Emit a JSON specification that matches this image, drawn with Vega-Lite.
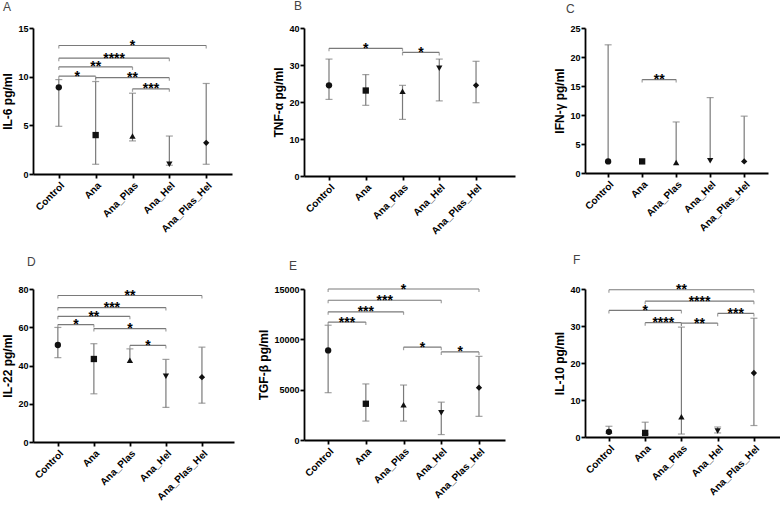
{
  "$schema": "https://vega.github.io/schema/vega-lite/v6.json",
  "background": "white",
  "padding": {"left": 1, "top": 0, "right": 0, "bottom": 0},
  "columns": 3,
  "bounds": "flush",
  "spacing": {"row": 113, "column": 70},
  "datasets": {
    "pts": [
      {"panel": "A", "group": "Control", "mean": 8.9, "low": 4.9, "high": 9.7},
      {"panel": "A", "group": "Ana", "mean": 4.0, "low": 1.0, "high": 9.5},
      {"panel": "A", "group": "Ana_Plas", "mean": 3.9, "low": 3.4, "high": 8.3},
      {"panel": "A", "group": "Ana_Hel", "mean": 1.0, "low": 0.9, "high": 3.9},
      {"panel": "A", "group": "Ana_Plas_Hel", "mean": 3.2, "low": 1.0, "high": 9.3},
      {"panel": "B", "group": "Control", "mean": 24.5, "low": 20.7, "high": 31.6},
      {"panel": "B", "group": "Ana", "mean": 23.1, "low": 19.1, "high": 27.4},
      {"panel": "B", "group": "Ana_Plas", "mean": 22.9, "low": 15.3, "high": 24.5},
      {"panel": "B", "group": "Ana_Hel", "mean": 29.1, "low": 20.3, "high": 31.6},
      {"panel": "B", "group": "Ana_Plas_Hel", "mean": 24.5, "low": 19.8, "high": 31.0},
      {"panel": "C", "group": "Control", "mean": 2.0, "low": 2.0, "high": 22.1},
      {"panel": "C", "group": "Ana", "mean": 2.0, "low": 2.0, "high": 2.0},
      {"panel": "C", "group": "Ana_Plas", "mean": 1.8, "low": 1.8, "high": 8.8},
      {"panel": "C", "group": "Ana_Hel", "mean": 2.1, "low": 2.1, "high": 13.0},
      {"panel": "C", "group": "Ana_Plas_Hel", "mean": 2.0, "low": 2.0, "high": 9.8},
      {"panel": "D", "group": "Control", "mean": 50.7, "low": 44.1, "high": 59.9},
      {"panel": "D", "group": "Ana", "mean": 43.4, "low": 25.2, "high": 51.4},
      {"panel": "D", "group": "Ana_Plas", "mean": 42.8, "low": 42.8, "high": 48.7},
      {"panel": "D", "group": "Ana_Hel", "mean": 34.4, "low": 18.1, "high": 43.2},
      {"panel": "D", "group": "Ana_Plas_Hel", "mean": 33.9, "low": 20.3, "high": 49.6},
      {"panel": "E", "group": "Control", "mean": 8900, "low": 4700, "high": 11400},
      {"panel": "E", "group": "Ana", "mean": 3600, "low": 1880, "high": 5570},
      {"panel": "E", "group": "Ana_Plas", "mean": 3500, "low": 1880, "high": 5460},
      {"panel": "E", "group": "Ana_Hel", "mean": 2700, "low": 540, "high": 3760},
      {"panel": "E", "group": "Ana_Plas_Hel", "mean": 5200, "low": 2350, "high": 8310},
      {"panel": "F", "group": "Control", "mean": 1.4, "low": 1.0, "high": 2.9},
      {"panel": "F", "group": "Ana", "mean": 1.1, "low": 0.8, "high": 4.0},
      {"panel": "F", "group": "Ana_Plas", "mean": 5.5, "low": 0.8, "high": 29.7},
      {"panel": "F", "group": "Ana_Hel", "mean": 1.6, "low": 1.1, "high": 2.7},
      {"panel": "F", "group": "Ana_Plas_Hel", "mean": 17.3, "low": 3.1, "high": 32.1}
    ],
    "sig": [
      {"panel": "A", "from": "Control", "to": "Ana_Plas_Hel", "level": 13.2, "stars": "*"},
      {"panel": "A", "from": "Control", "to": "Ana_Hel", "level": 11.9, "stars": "****"},
      {"panel": "A", "from": "Control", "to": "Ana_Plas", "level": 11.0, "stars": "**"},
      {"panel": "A", "from": "Control", "to": "Ana", "level": 10.05, "stars": "*"},
      {"panel": "A", "from": "Ana", "to": "Ana_Hel", "level": 9.9, "stars": "**"},
      {"panel": "A", "from": "Ana_Plas", "to": "Ana_Hel", "level": 8.75, "stars": "***"},
      {"panel": "B", "from": "Control", "to": "Ana_Plas", "level": 34.5, "stars": "*"},
      {"panel": "B", "from": "Ana_Plas", "to": "Ana_Hel", "level": 33.4, "stars": "*"},
      {"panel": "C", "from": "Ana", "to": "Ana_Plas", "level": 16.1, "stars": "**"},
      {"panel": "D", "from": "Control", "to": "Ana_Plas_Hel", "level": 76.6, "stars": "**"},
      {"panel": "D", "from": "Control", "to": "Ana_Hel", "level": 70.3, "stars": "***"},
      {"panel": "D", "from": "Control", "to": "Ana_Plas", "level": 65.7, "stars": "**"},
      {"panel": "D", "from": "Control", "to": "Ana", "level": 61.4, "stars": "*"},
      {"panel": "D", "from": "Ana", "to": "Ana_Hel", "level": 59.3, "stars": "*"},
      {"panel": "D", "from": "Ana_Plas", "to": "Ana_Hel", "level": 50.5, "stars": "*"},
      {"panel": "E", "from": "Control", "to": "Ana_Plas_Hel", "level": 15000, "stars": "*"},
      {"panel": "E", "from": "Control", "to": "Ana_Hel", "level": 13880, "stars": "***"},
      {"panel": "E", "from": "Control", "to": "Ana_Plas", "level": 12735, "stars": "***"},
      {"panel": "E", "from": "Control", "to": "Ana", "level": 11711, "stars": "***"},
      {"panel": "E", "from": "Ana_Plas", "to": "Ana_Hel", "level": 9217, "stars": "*"},
      {"panel": "E", "from": "Ana_Hel", "to": "Ana_Plas_Hel", "level": 8747, "stars": "*"},
      {"panel": "F", "from": "Control", "to": "Ana_Plas_Hel", "level": 39.8, "stars": "**"},
      {"panel": "F", "from": "Ana", "to": "Ana_Plas_Hel", "level": 36.7, "stars": "****"},
      {"panel": "F", "from": "Control", "to": "Ana_Plas", "level": 34.2, "stars": "*"},
      {"panel": "F", "from": "Ana_Hel", "to": "Ana_Plas_Hel", "level": 33.4, "stars": "***"},
      {"panel": "F", "from": "Ana", "to": "Ana_Plas", "level": 30.9, "stars": "****"},
      {"panel": "F", "from": "Ana_Plas", "to": "Ana_Hel", "level": 30.8, "stars": "**"}
    ]
  },
  "concat": [
    {
      "width": 199, "height": 146,
      "title": {"text": "A", "dx": -30, "offset": 10},
      "layer": [
        {"data": {"name": "pts"},
         "transform": [{"filter": "datum.panel === 'A'"}, {"calculate": "indexof(['Control','Ana','Ana_Plas','Ana_Hel','Ana_Plas_Hel'], datum.group)", "as": "pos"}],
         "mark": {"type": "rule", "color": "#7a7a7a", "strokeWidth": 1.2},
         "encoding": {
           "x": {"field": "pos", "type": "quantitative", "scale": {"domain": [-0.7, 4.7], "nice": false, "zero": false},
             "axis": {"values": [0, 1, 2, 3, 4], "labelExpr": "['Control','Ana','Ana_Plas','Ana_Hel','Ana_Plas_Hel'][datum.value]", "labelAngle": -45, "labelOverlap": false, "title": null}},
           "y": {"field": "low", "type": "quantitative", "scale": {"domain": [0, 15], "nice": false}, "axis": {"values": [0, 5, 10, 15], "tickCount": 4, "labelOverlap": false, "title": "IL-6 pg/ml"}},
           "y2": {"field": "high"}}},
        {"data": {"name": "pts"},
         "transform": [{"filter": "datum.panel === 'A' && datum.high > datum.mean"}, {"calculate": "indexof(['Control','Ana','Ana_Plas','Ana_Hel','Ana_Plas_Hel'], datum.group)", "as": "pos"}],
         "mark": {"type": "tick", "orient": "horizontal", "size": 7, "thickness": 1.2, "color": "#7a7a7a"},
         "encoding": {"x": {"field": "pos", "type": "quantitative", "title": null}, "y": {"field": "high", "type": "quantitative", "axis": {"values": [0, 5, 10, 15], "tickCount": 4, "labelOverlap": false, "title": "IL-6 pg/ml"}}}},
        {"data": {"name": "pts"},
         "transform": [{"filter": "datum.panel === 'A' && datum.low < datum.mean"}, {"calculate": "indexof(['Control','Ana','Ana_Plas','Ana_Hel','Ana_Plas_Hel'], datum.group)", "as": "pos"}],
         "mark": {"type": "tick", "orient": "horizontal", "size": 7, "thickness": 1.2, "color": "#7a7a7a"},
         "encoding": {"x": {"field": "pos", "type": "quantitative", "title": null}, "y": {"field": "low", "type": "quantitative", "axis": {"values": [0, 5, 10, 15], "tickCount": 4, "labelOverlap": false, "title": "IL-6 pg/ml"}}}},
        {"data": {"name": "pts"},
         "transform": [{"filter": "datum.panel === 'A'"}, {"calculate": "indexof(['Control','Ana','Ana_Plas','Ana_Hel','Ana_Plas_Hel'], datum.group)", "as": "pos"}],
         "mark": {"type": "point", "filled": true, "opacity": 1, "color": "#111", "size": 40},
         "encoding": {"x": {"field": "pos", "type": "quantitative", "title": null}, "y": {"field": "mean", "type": "quantitative", "axis": {"values": [0, 5, 10, 15], "tickCount": 4, "labelOverlap": false, "title": "IL-6 pg/ml"}},
           "shape": {"field": "group", "type": "nominal", "scale": {"domain": ["Control", "Ana", "Ana_Plas", "Ana_Hel", "Ana_Plas_Hel"], "range": ["circle", "square", "triangle-up", "triangle-down", "diamond"]}, "legend": null}}},
        {"data": {"name": "sig"},
         "transform": [{"filter": "datum.panel === 'A'"}, {"calculate": "indexof(['Control','Ana','Ana_Plas','Ana_Hel','Ana_Plas_Hel'], datum.from)", "as": "a"}, {"calculate": "indexof(['Control','Ana','Ana_Plas','Ana_Hel','Ana_Plas_Hel'], datum.to)", "as": "b"}],
         "mark": {"type": "rule", "color": "#7a7a7a", "strokeWidth": 1.2},
         "encoding": {"x": {"field": "a", "type": "quantitative", "title": null}, "x2": {"field": "b"}, "y": {"field": "level", "type": "quantitative", "axis": {"values": [0, 5, 10, 15], "tickCount": 4, "labelOverlap": false, "title": "IL-6 pg/ml"}}}},
        {"data": {"name": "sig"},
         "transform": [{"filter": "datum.panel === 'A'"}, {"calculate": "indexof(['Control','Ana','Ana_Plas','Ana_Hel','Ana_Plas_Hel'], datum.from)", "as": "a"}],
         "mark": {"type": "tick", "orient": "vertical", "size": 3, "thickness": 1.2, "color": "#7a7a7a", "yOffset": 1.5},
         "encoding": {"x": {"field": "a", "type": "quantitative", "title": null}, "y": {"field": "level", "type": "quantitative", "axis": {"values": [0, 5, 10, 15], "tickCount": 4, "labelOverlap": false, "title": "IL-6 pg/ml"}}}},
        {"data": {"name": "sig"},
         "transform": [{"filter": "datum.panel === 'A'"}, {"calculate": "indexof(['Control','Ana','Ana_Plas','Ana_Hel','Ana_Plas_Hel'], datum.to)", "as": "b"}],
         "mark": {"type": "tick", "orient": "vertical", "size": 3, "thickness": 1.2, "color": "#7a7a7a", "yOffset": 1.5},
         "encoding": {"x": {"field": "b", "type": "quantitative", "title": null}, "y": {"field": "level", "type": "quantitative", "axis": {"values": [0, 5, 10, 15], "tickCount": 4, "labelOverlap": false, "title": "IL-6 pg/ml"}}}},
        {"data": {"name": "sig"},
         "transform": [{"filter": "datum.panel === 'A'"}, {"calculate": "(indexof(['Control','Ana','Ana_Plas','Ana_Hel','Ana_Plas_Hel'], datum.from) + indexof(['Control','Ana','Ana_Plas','Ana_Hel','Ana_Plas_Hel'], datum.to)) / 2", "as": "mid"}],
         "mark": {"type": "text", "fontSize": 14, "fontWeight": "bold", "baseline": "alphabetic", "dy": 4.5, "color": "#000"},
         "encoding": {"x": {"field": "mid", "type": "quantitative", "title": null}, "y": {"field": "level", "type": "quantitative", "axis": {"values": [0, 5, 10, 15], "tickCount": 4, "labelOverlap": false, "title": "IL-6 pg/ml"}}, "text": {"field": "stars"}}}
      ]
    },
    {
      "width": 211, "height": 148,
      "title": {"text": "B", "dx": -10, "offset": 11},
      "layer": [
        {"data": {"name": "pts"},
         "transform": [{"filter": "datum.panel === 'B'"}, {"calculate": "indexof(['Control','Ana','Ana_Plas','Ana_Hel','Ana_Plas_Hel'], datum.group)", "as": "pos"}],
         "mark": {"type": "rule", "color": "#7a7a7a", "strokeWidth": 1.2},
         "encoding": {
           "x": {"field": "pos", "type": "quantitative", "scale": {"domain": [-0.68, 5.06], "nice": false, "zero": false},
             "axis": {"values": [0, 1, 2, 3, 4], "labelExpr": "['Control','Ana','Ana_Plas','Ana_Hel','Ana_Plas_Hel'][datum.value]", "labelAngle": -45, "labelOverlap": false, "title": null}},
           "y": {"field": "low", "type": "quantitative", "scale": {"domain": [0, 40], "nice": false}, "axis": {"values": [0, 10, 20, 30, 40], "tickCount": 5, "labelOverlap": false, "title": "TNF-α pg/ml"}},
           "y2": {"field": "high"}}},
        {"data": {"name": "pts"},
         "transform": [{"filter": "datum.panel === 'B' && datum.high > datum.mean"}, {"calculate": "indexof(['Control','Ana','Ana_Plas','Ana_Hel','Ana_Plas_Hel'], datum.group)", "as": "pos"}],
         "mark": {"type": "tick", "orient": "horizontal", "size": 7, "thickness": 1.2, "color": "#7a7a7a"},
         "encoding": {"x": {"field": "pos", "type": "quantitative", "title": null}, "y": {"field": "high", "type": "quantitative", "axis": {"values": [0, 10, 20, 30, 40], "tickCount": 5, "labelOverlap": false, "title": "TNF-α pg/ml"}}}},
        {"data": {"name": "pts"},
         "transform": [{"filter": "datum.panel === 'B' && datum.low < datum.mean"}, {"calculate": "indexof(['Control','Ana','Ana_Plas','Ana_Hel','Ana_Plas_Hel'], datum.group)", "as": "pos"}],
         "mark": {"type": "tick", "orient": "horizontal", "size": 7, "thickness": 1.2, "color": "#7a7a7a"},
         "encoding": {"x": {"field": "pos", "type": "quantitative", "title": null}, "y": {"field": "low", "type": "quantitative", "axis": {"values": [0, 10, 20, 30, 40], "tickCount": 5, "labelOverlap": false, "title": "TNF-α pg/ml"}}}},
        {"data": {"name": "pts"},
         "transform": [{"filter": "datum.panel === 'B'"}, {"calculate": "indexof(['Control','Ana','Ana_Plas','Ana_Hel','Ana_Plas_Hel'], datum.group)", "as": "pos"}],
         "mark": {"type": "point", "filled": true, "opacity": 1, "color": "#111", "size": 40},
         "encoding": {"x": {"field": "pos", "type": "quantitative", "title": null}, "y": {"field": "mean", "type": "quantitative", "axis": {"values": [0, 10, 20, 30, 40], "tickCount": 5, "labelOverlap": false, "title": "TNF-α pg/ml"}},
           "shape": {"field": "group", "type": "nominal", "scale": {"domain": ["Control", "Ana", "Ana_Plas", "Ana_Hel", "Ana_Plas_Hel"], "range": ["circle", "square", "triangle-up", "triangle-down", "diamond"]}, "legend": null}}},
        {"data": {"name": "sig"},
         "transform": [{"filter": "datum.panel === 'B'"}, {"calculate": "indexof(['Control','Ana','Ana_Plas','Ana_Hel','Ana_Plas_Hel'], datum.from)", "as": "a"}, {"calculate": "indexof(['Control','Ana','Ana_Plas','Ana_Hel','Ana_Plas_Hel'], datum.to)", "as": "b"}],
         "mark": {"type": "rule", "color": "#7a7a7a", "strokeWidth": 1.2},
         "encoding": {"x": {"field": "a", "type": "quantitative", "title": null}, "x2": {"field": "b"}, "y": {"field": "level", "type": "quantitative", "axis": {"values": [0, 10, 20, 30, 40], "tickCount": 5, "labelOverlap": false, "title": "TNF-α pg/ml"}}}},
        {"data": {"name": "sig"},
         "transform": [{"filter": "datum.panel === 'B'"}, {"calculate": "indexof(['Control','Ana','Ana_Plas','Ana_Hel','Ana_Plas_Hel'], datum.from)", "as": "a"}],
         "mark": {"type": "tick", "orient": "vertical", "size": 3, "thickness": 1.2, "color": "#7a7a7a", "yOffset": 1.5},
         "encoding": {"x": {"field": "a", "type": "quantitative", "title": null}, "y": {"field": "level", "type": "quantitative", "axis": {"values": [0, 10, 20, 30, 40], "tickCount": 5, "labelOverlap": false, "title": "TNF-α pg/ml"}}}},
        {"data": {"name": "sig"},
         "transform": [{"filter": "datum.panel === 'B'"}, {"calculate": "indexof(['Control','Ana','Ana_Plas','Ana_Hel','Ana_Plas_Hel'], datum.to)", "as": "b"}],
         "mark": {"type": "tick", "orient": "vertical", "size": 3, "thickness": 1.2, "color": "#7a7a7a", "yOffset": 1.5},
         "encoding": {"x": {"field": "b", "type": "quantitative", "title": null}, "y": {"field": "level", "type": "quantitative", "axis": {"values": [0, 10, 20, 30, 40], "tickCount": 5, "labelOverlap": false, "title": "TNF-α pg/ml"}}}},
        {"data": {"name": "sig"},
         "transform": [{"filter": "datum.panel === 'B'"}, {"calculate": "(indexof(['Control','Ana','Ana_Plas','Ana_Hel','Ana_Plas_Hel'], datum.from) + indexof(['Control','Ana','Ana_Plas','Ana_Hel','Ana_Plas_Hel'], datum.to)) / 2", "as": "mid"}],
         "mark": {"type": "text", "fontSize": 14, "fontWeight": "bold", "baseline": "alphabetic", "dy": 4.5, "color": "#000"},
         "encoding": {"x": {"field": "mid", "type": "quantitative", "title": null}, "y": {"field": "level", "type": "quantitative", "axis": {"values": [0, 10, 20, 30, 40], "tickCount": 5, "labelOverlap": false, "title": "TNF-α pg/ml"}}, "text": {"field": "stars"}}}
      ]
    },
    {
      "width": 183, "height": 145,
      "title": {"text": "C", "dx": -19, "offset": 8},
      "layer": [
        {"data": {"name": "pts"},
         "transform": [{"filter": "datum.panel === 'C'"}, {"calculate": "indexof(['Control','Ana','Ana_Plas','Ana_Hel','Ana_Plas_Hel'], datum.group)", "as": "pos"}],
         "mark": {"type": "rule", "color": "#7a7a7a", "strokeWidth": 1.2},
         "encoding": {
           "x": {"field": "pos", "type": "quantitative", "scale": {"domain": [-0.68, 4.7], "nice": false, "zero": false},
             "axis": {"values": [0, 1, 2, 3, 4], "labelExpr": "['Control','Ana','Ana_Plas','Ana_Hel','Ana_Plas_Hel'][datum.value]", "labelAngle": -45, "labelOverlap": false, "title": null}},
           "y": {"field": "low", "type": "quantitative", "scale": {"domain": [0, 25], "nice": false}, "axis": {"values": [0, 5, 10, 15, 20, 25], "tickCount": 6, "labelOverlap": false, "title": "IFN-γ pg/ml"}},
           "y2": {"field": "high"}}},
        {"data": {"name": "pts"},
         "transform": [{"filter": "datum.panel === 'C' && datum.high > datum.mean"}, {"calculate": "indexof(['Control','Ana','Ana_Plas','Ana_Hel','Ana_Plas_Hel'], datum.group)", "as": "pos"}],
         "mark": {"type": "tick", "orient": "horizontal", "size": 7, "thickness": 1.2, "color": "#7a7a7a"},
         "encoding": {"x": {"field": "pos", "type": "quantitative", "title": null}, "y": {"field": "high", "type": "quantitative", "axis": {"values": [0, 5, 10, 15, 20, 25], "tickCount": 6, "labelOverlap": false, "title": "IFN-γ pg/ml"}}}},
        {"data": {"name": "pts"},
         "transform": [{"filter": "datum.panel === 'C'"}, {"calculate": "indexof(['Control','Ana','Ana_Plas','Ana_Hel','Ana_Plas_Hel'], datum.group)", "as": "pos"}],
         "mark": {"type": "point", "filled": true, "opacity": 1, "color": "#111", "size": 40},
         "encoding": {"x": {"field": "pos", "type": "quantitative", "title": null}, "y": {"field": "mean", "type": "quantitative", "axis": {"values": [0, 5, 10, 15, 20, 25], "tickCount": 6, "labelOverlap": false, "title": "IFN-γ pg/ml"}},
           "shape": {"field": "group", "type": "nominal", "scale": {"domain": ["Control", "Ana", "Ana_Plas", "Ana_Hel", "Ana_Plas_Hel"], "range": ["circle", "square", "triangle-up", "triangle-down", "diamond"]}, "legend": null}}},
        {"data": {"name": "sig"},
         "transform": [{"filter": "datum.panel === 'C'"}, {"calculate": "indexof(['Control','Ana','Ana_Plas','Ana_Hel','Ana_Plas_Hel'], datum.from)", "as": "a"}, {"calculate": "indexof(['Control','Ana','Ana_Plas','Ana_Hel','Ana_Plas_Hel'], datum.to)", "as": "b"}],
         "mark": {"type": "rule", "color": "#7a7a7a", "strokeWidth": 1.2},
         "encoding": {"x": {"field": "a", "type": "quantitative", "title": null}, "x2": {"field": "b"}, "y": {"field": "level", "type": "quantitative", "axis": {"values": [0, 5, 10, 15, 20, 25], "tickCount": 6, "labelOverlap": false, "title": "IFN-γ pg/ml"}}}},
        {"data": {"name": "sig"},
         "transform": [{"filter": "datum.panel === 'C'"}, {"calculate": "indexof(['Control','Ana','Ana_Plas','Ana_Hel','Ana_Plas_Hel'], datum.from)", "as": "a"}],
         "mark": {"type": "tick", "orient": "vertical", "size": 3, "thickness": 1.2, "color": "#7a7a7a", "yOffset": 1.5},
         "encoding": {"x": {"field": "a", "type": "quantitative", "title": null}, "y": {"field": "level", "type": "quantitative", "axis": {"values": [0, 5, 10, 15, 20, 25], "tickCount": 6, "labelOverlap": false, "title": "IFN-γ pg/ml"}}}},
        {"data": {"name": "sig"},
         "transform": [{"filter": "datum.panel === 'C'"}, {"calculate": "indexof(['Control','Ana','Ana_Plas','Ana_Hel','Ana_Plas_Hel'], datum.to)", "as": "b"}],
         "mark": {"type": "tick", "orient": "vertical", "size": 3, "thickness": 1.2, "color": "#7a7a7a", "yOffset": 1.5},
         "encoding": {"x": {"field": "b", "type": "quantitative", "title": null}, "y": {"field": "level", "type": "quantitative", "axis": {"values": [0, 5, 10, 15, 20, 25], "tickCount": 6, "labelOverlap": false, "title": "IFN-γ pg/ml"}}}},
        {"data": {"name": "sig"},
         "transform": [{"filter": "datum.panel === 'C'"}, {"calculate": "(indexof(['Control','Ana','Ana_Plas','Ana_Hel','Ana_Plas_Hel'], datum.from) + indexof(['Control','Ana','Ana_Plas','Ana_Hel','Ana_Plas_Hel'], datum.to)) / 2", "as": "mid"}],
         "mark": {"type": "text", "fontSize": 14, "fontWeight": "bold", "baseline": "alphabetic", "dy": 4.5, "color": "#000"},
         "encoding": {"x": {"field": "mid", "type": "quantitative", "title": null}, "y": {"field": "level", "type": "quantitative", "axis": {"values": [0, 5, 10, 15, 20, 25], "tickCount": 6, "labelOverlap": false, "title": "IFN-γ pg/ml"}}, "text": {"field": "stars"}}}
      ]
    },
    {
      "width": 201, "height": 153,
      "title": {"text": "D", "dx": -6, "offset": 16},
      "layer": [
        {"data": {"name": "pts"},
         "transform": [{"filter": "datum.panel === 'D'"}, {"calculate": "indexof(['Control','Ana','Ana_Plas','Ana_Hel','Ana_Plas_Hel'], datum.group)", "as": "pos"}],
         "mark": {"type": "rule", "color": "#7a7a7a", "strokeWidth": 1.2},
         "encoding": {
           "x": {"field": "pos", "type": "quantitative", "scale": {"domain": [-0.69, 4.89], "nice": false, "zero": false},
             "axis": {"values": [0, 1, 2, 3, 4], "labelExpr": "['Control','Ana','Ana_Plas','Ana_Hel','Ana_Plas_Hel'][datum.value]", "labelAngle": -45, "labelOverlap": false, "title": null}},
           "y": {"field": "low", "type": "quantitative", "scale": {"domain": [0, 80], "nice": false}, "axis": {"values": [0, 20, 40, 60, 80], "tickCount": 5, "labelOverlap": false, "title": "IL-22 pg/ml"}},
           "y2": {"field": "high"}}},
        {"data": {"name": "pts"},
         "transform": [{"filter": "datum.panel === 'D' && datum.high > datum.mean"}, {"calculate": "indexof(['Control','Ana','Ana_Plas','Ana_Hel','Ana_Plas_Hel'], datum.group)", "as": "pos"}],
         "mark": {"type": "tick", "orient": "horizontal", "size": 7, "thickness": 1.2, "color": "#7a7a7a"},
         "encoding": {"x": {"field": "pos", "type": "quantitative", "title": null}, "y": {"field": "high", "type": "quantitative", "axis": {"values": [0, 20, 40, 60, 80], "tickCount": 5, "labelOverlap": false, "title": "IL-22 pg/ml"}}}},
        {"data": {"name": "pts"},
         "transform": [{"filter": "datum.panel === 'D' && datum.low < datum.mean"}, {"calculate": "indexof(['Control','Ana','Ana_Plas','Ana_Hel','Ana_Plas_Hel'], datum.group)", "as": "pos"}],
         "mark": {"type": "tick", "orient": "horizontal", "size": 7, "thickness": 1.2, "color": "#7a7a7a"},
         "encoding": {"x": {"field": "pos", "type": "quantitative", "title": null}, "y": {"field": "low", "type": "quantitative", "axis": {"values": [0, 20, 40, 60, 80], "tickCount": 5, "labelOverlap": false, "title": "IL-22 pg/ml"}}}},
        {"data": {"name": "pts"},
         "transform": [{"filter": "datum.panel === 'D'"}, {"calculate": "indexof(['Control','Ana','Ana_Plas','Ana_Hel','Ana_Plas_Hel'], datum.group)", "as": "pos"}],
         "mark": {"type": "point", "filled": true, "opacity": 1, "color": "#111", "size": 40},
         "encoding": {"x": {"field": "pos", "type": "quantitative", "title": null}, "y": {"field": "mean", "type": "quantitative", "axis": {"values": [0, 20, 40, 60, 80], "tickCount": 5, "labelOverlap": false, "title": "IL-22 pg/ml"}},
           "shape": {"field": "group", "type": "nominal", "scale": {"domain": ["Control", "Ana", "Ana_Plas", "Ana_Hel", "Ana_Plas_Hel"], "range": ["circle", "square", "triangle-up", "triangle-down", "diamond"]}, "legend": null}}},
        {"data": {"name": "sig"},
         "transform": [{"filter": "datum.panel === 'D'"}, {"calculate": "indexof(['Control','Ana','Ana_Plas','Ana_Hel','Ana_Plas_Hel'], datum.from)", "as": "a"}, {"calculate": "indexof(['Control','Ana','Ana_Plas','Ana_Hel','Ana_Plas_Hel'], datum.to)", "as": "b"}],
         "mark": {"type": "rule", "color": "#7a7a7a", "strokeWidth": 1.2},
         "encoding": {"x": {"field": "a", "type": "quantitative", "title": null}, "x2": {"field": "b"}, "y": {"field": "level", "type": "quantitative", "axis": {"values": [0, 20, 40, 60, 80], "tickCount": 5, "labelOverlap": false, "title": "IL-22 pg/ml"}}}},
        {"data": {"name": "sig"},
         "transform": [{"filter": "datum.panel === 'D'"}, {"calculate": "indexof(['Control','Ana','Ana_Plas','Ana_Hel','Ana_Plas_Hel'], datum.from)", "as": "a"}],
         "mark": {"type": "tick", "orient": "vertical", "size": 3, "thickness": 1.2, "color": "#7a7a7a", "yOffset": 1.5},
         "encoding": {"x": {"field": "a", "type": "quantitative", "title": null}, "y": {"field": "level", "type": "quantitative", "axis": {"values": [0, 20, 40, 60, 80], "tickCount": 5, "labelOverlap": false, "title": "IL-22 pg/ml"}}}},
        {"data": {"name": "sig"},
         "transform": [{"filter": "datum.panel === 'D'"}, {"calculate": "indexof(['Control','Ana','Ana_Plas','Ana_Hel','Ana_Plas_Hel'], datum.to)", "as": "b"}],
         "mark": {"type": "tick", "orient": "vertical", "size": 3, "thickness": 1.2, "color": "#7a7a7a", "yOffset": 1.5},
         "encoding": {"x": {"field": "b", "type": "quantitative", "title": null}, "y": {"field": "level", "type": "quantitative", "axis": {"values": [0, 20, 40, 60, 80], "tickCount": 5, "labelOverlap": false, "title": "IL-22 pg/ml"}}}},
        {"data": {"name": "sig"},
         "transform": [{"filter": "datum.panel === 'D'"}, {"calculate": "(indexof(['Control','Ana','Ana_Plas','Ana_Hel','Ana_Plas_Hel'], datum.from) + indexof(['Control','Ana','Ana_Plas','Ana_Hel','Ana_Plas_Hel'], datum.to)) / 2", "as": "mid"}],
         "mark": {"type": "text", "fontSize": 14, "fontWeight": "bold", "baseline": "alphabetic", "dy": 4.5, "color": "#000"},
         "encoding": {"x": {"field": "mid", "type": "quantitative", "title": null}, "y": {"field": "level", "type": "quantitative", "axis": {"values": [0, 20, 40, 60, 80], "tickCount": 5, "labelOverlap": false, "title": "IL-22 pg/ml"}}, "text": {"field": "stars"}}}
      ]
    },
    {
      "width": 201, "height": 151,
      "title": {"text": "E", "dx": -15, "offset": 10},
      "layer": [
        {"data": {"name": "pts"},
         "transform": [{"filter": "datum.panel === 'E'"}, {"calculate": "indexof(['Control','Ana','Ana_Plas','Ana_Hel','Ana_Plas_Hel'], datum.group)", "as": "pos"}],
         "mark": {"type": "rule", "color": "#7a7a7a", "strokeWidth": 1.2},
         "encoding": {
           "x": {"field": "pos", "type": "quantitative", "scale": {"domain": [-0.64, 4.69], "nice": false, "zero": false},
             "axis": {"values": [0, 1, 2, 3, 4], "labelExpr": "['Control','Ana','Ana_Plas','Ana_Hel','Ana_Plas_Hel'][datum.value]", "labelAngle": -45, "labelOverlap": false, "title": null}},
           "y": {"field": "low", "type": "quantitative", "scale": {"domain": [0, 15000], "nice": false}, "axis": {"values": [0, 5000, 10000, 15000], "tickCount": 4, "format": "d", "labelOverlap": false, "title": "TGF-β pg/ml"}},
           "y2": {"field": "high"}}},
        {"data": {"name": "pts"},
         "transform": [{"filter": "datum.panel === 'E' && datum.high > datum.mean"}, {"calculate": "indexof(['Control','Ana','Ana_Plas','Ana_Hel','Ana_Plas_Hel'], datum.group)", "as": "pos"}],
         "mark": {"type": "tick", "orient": "horizontal", "size": 7, "thickness": 1.2, "color": "#7a7a7a"},
         "encoding": {"x": {"field": "pos", "type": "quantitative", "title": null}, "y": {"field": "high", "type": "quantitative", "axis": {"values": [0, 5000, 10000, 15000], "tickCount": 4, "format": "d", "labelOverlap": false, "title": "TGF-β pg/ml"}}}},
        {"data": {"name": "pts"},
         "transform": [{"filter": "datum.panel === 'E' && datum.low < datum.mean"}, {"calculate": "indexof(['Control','Ana','Ana_Plas','Ana_Hel','Ana_Plas_Hel'], datum.group)", "as": "pos"}],
         "mark": {"type": "tick", "orient": "horizontal", "size": 7, "thickness": 1.2, "color": "#7a7a7a"},
         "encoding": {"x": {"field": "pos", "type": "quantitative", "title": null}, "y": {"field": "low", "type": "quantitative", "axis": {"values": [0, 5000, 10000, 15000], "tickCount": 4, "format": "d", "labelOverlap": false, "title": "TGF-β pg/ml"}}}},
        {"data": {"name": "pts"},
         "transform": [{"filter": "datum.panel === 'E'"}, {"calculate": "indexof(['Control','Ana','Ana_Plas','Ana_Hel','Ana_Plas_Hel'], datum.group)", "as": "pos"}],
         "mark": {"type": "point", "filled": true, "opacity": 1, "color": "#111", "size": 40},
         "encoding": {"x": {"field": "pos", "type": "quantitative", "title": null}, "y": {"field": "mean", "type": "quantitative", "axis": {"values": [0, 5000, 10000, 15000], "tickCount": 4, "format": "d", "labelOverlap": false, "title": "TGF-β pg/ml"}},
           "shape": {"field": "group", "type": "nominal", "scale": {"domain": ["Control", "Ana", "Ana_Plas", "Ana_Hel", "Ana_Plas_Hel"], "range": ["circle", "square", "triangle-up", "triangle-down", "diamond"]}, "legend": null}}},
        {"data": {"name": "sig"},
         "transform": [{"filter": "datum.panel === 'E'"}, {"calculate": "indexof(['Control','Ana','Ana_Plas','Ana_Hel','Ana_Plas_Hel'], datum.from)", "as": "a"}, {"calculate": "indexof(['Control','Ana','Ana_Plas','Ana_Hel','Ana_Plas_Hel'], datum.to)", "as": "b"}],
         "mark": {"type": "rule", "color": "#7a7a7a", "strokeWidth": 1.2},
         "encoding": {"x": {"field": "a", "type": "quantitative", "title": null}, "x2": {"field": "b"}, "y": {"field": "level", "type": "quantitative", "axis": {"values": [0, 5000, 10000, 15000], "tickCount": 4, "format": "d", "labelOverlap": false, "title": "TGF-β pg/ml"}}}},
        {"data": {"name": "sig"},
         "transform": [{"filter": "datum.panel === 'E'"}, {"calculate": "indexof(['Control','Ana','Ana_Plas','Ana_Hel','Ana_Plas_Hel'], datum.from)", "as": "a"}],
         "mark": {"type": "tick", "orient": "vertical", "size": 3, "thickness": 1.2, "color": "#7a7a7a", "yOffset": 1.5},
         "encoding": {"x": {"field": "a", "type": "quantitative", "title": null}, "y": {"field": "level", "type": "quantitative", "axis": {"values": [0, 5000, 10000, 15000], "tickCount": 4, "format": "d", "labelOverlap": false, "title": "TGF-β pg/ml"}}}},
        {"data": {"name": "sig"},
         "transform": [{"filter": "datum.panel === 'E'"}, {"calculate": "indexof(['Control','Ana','Ana_Plas','Ana_Hel','Ana_Plas_Hel'], datum.to)", "as": "b"}],
         "mark": {"type": "tick", "orient": "vertical", "size": 3, "thickness": 1.2, "color": "#7a7a7a", "yOffset": 1.5},
         "encoding": {"x": {"field": "b", "type": "quantitative", "title": null}, "y": {"field": "level", "type": "quantitative", "axis": {"values": [0, 5000, 10000, 15000], "tickCount": 4, "format": "d", "labelOverlap": false, "title": "TGF-β pg/ml"}}}},
        {"data": {"name": "sig"},
         "transform": [{"filter": "datum.panel === 'E'"}, {"calculate": "(indexof(['Control','Ana','Ana_Plas','Ana_Hel','Ana_Plas_Hel'], datum.from) + indexof(['Control','Ana','Ana_Plas','Ana_Hel','Ana_Plas_Hel'], datum.to)) / 2", "as": "mid"}],
         "mark": {"type": "text", "fontSize": 14, "fontWeight": "bold", "baseline": "alphabetic", "dy": 4.5, "color": "#000"},
         "encoding": {"x": {"field": "mid", "type": "quantitative", "title": null}, "y": {"field": "level", "type": "quantitative", "axis": {"values": [0, 5000, 10000, 15000], "tickCount": 4, "format": "d", "labelOverlap": false, "title": "TGF-β pg/ml"}}, "text": {"field": "stars"}}}
      ]
    },
    {
      "width": 195, "height": 148,
      "title": {"text": "F", "dx": -12, "offset": 16},
      "layer": [
        {"data": {"name": "pts"},
         "transform": [{"filter": "datum.panel === 'F'"}, {"calculate": "indexof(['Control','Ana','Ana_Plas','Ana_Hel','Ana_Plas_Hel'], datum.group)", "as": "pos"}],
         "mark": {"type": "rule", "color": "#7a7a7a", "strokeWidth": 1.2},
         "encoding": {
           "x": {"field": "pos", "type": "quantitative", "scale": {"domain": [-0.66, 4.72], "nice": false, "zero": false},
             "axis": {"values": [0, 1, 2, 3, 4], "labelExpr": "['Control','Ana','Ana_Plas','Ana_Hel','Ana_Plas_Hel'][datum.value]", "labelAngle": -45, "labelOverlap": false, "title": null}},
           "y": {"field": "low", "type": "quantitative", "scale": {"domain": [0, 40], "nice": false}, "axis": {"values": [0, 10, 20, 30, 40], "tickCount": 5, "labelOverlap": false, "title": "IL-10 pg/ml"}},
           "y2": {"field": "high"}}},
        {"data": {"name": "pts"},
         "transform": [{"filter": "datum.panel === 'F' && datum.high > datum.mean"}, {"calculate": "indexof(['Control','Ana','Ana_Plas','Ana_Hel','Ana_Plas_Hel'], datum.group)", "as": "pos"}],
         "mark": {"type": "tick", "orient": "horizontal", "size": 7, "thickness": 1.2, "color": "#7a7a7a"},
         "encoding": {"x": {"field": "pos", "type": "quantitative", "title": null}, "y": {"field": "high", "type": "quantitative", "axis": {"values": [0, 10, 20, 30, 40], "tickCount": 5, "labelOverlap": false, "title": "IL-10 pg/ml"}}}},
        {"data": {"name": "pts"},
         "transform": [{"filter": "datum.panel === 'F' && datum.low < datum.mean"}, {"calculate": "indexof(['Control','Ana','Ana_Plas','Ana_Hel','Ana_Plas_Hel'], datum.group)", "as": "pos"}],
         "mark": {"type": "tick", "orient": "horizontal", "size": 7, "thickness": 1.2, "color": "#7a7a7a"},
         "encoding": {"x": {"field": "pos", "type": "quantitative", "title": null}, "y": {"field": "low", "type": "quantitative", "axis": {"values": [0, 10, 20, 30, 40], "tickCount": 5, "labelOverlap": false, "title": "IL-10 pg/ml"}}}},
        {"data": {"name": "pts"},
         "transform": [{"filter": "datum.panel === 'F'"}, {"calculate": "indexof(['Control','Ana','Ana_Plas','Ana_Hel','Ana_Plas_Hel'], datum.group)", "as": "pos"}],
         "mark": {"type": "point", "filled": true, "opacity": 1, "color": "#111", "size": 40},
         "encoding": {"x": {"field": "pos", "type": "quantitative", "title": null}, "y": {"field": "mean", "type": "quantitative", "axis": {"values": [0, 10, 20, 30, 40], "tickCount": 5, "labelOverlap": false, "title": "IL-10 pg/ml"}},
           "shape": {"field": "group", "type": "nominal", "scale": {"domain": ["Control", "Ana", "Ana_Plas", "Ana_Hel", "Ana_Plas_Hel"], "range": ["circle", "square", "triangle-up", "triangle-down", "diamond"]}, "legend": null}}},
        {"data": {"name": "sig"},
         "transform": [{"filter": "datum.panel === 'F'"}, {"calculate": "indexof(['Control','Ana','Ana_Plas','Ana_Hel','Ana_Plas_Hel'], datum.from)", "as": "a"}, {"calculate": "indexof(['Control','Ana','Ana_Plas','Ana_Hel','Ana_Plas_Hel'], datum.to)", "as": "b"}],
         "mark": {"type": "rule", "color": "#7a7a7a", "strokeWidth": 1.2},
         "encoding": {"x": {"field": "a", "type": "quantitative", "title": null}, "x2": {"field": "b"}, "y": {"field": "level", "type": "quantitative", "axis": {"values": [0, 10, 20, 30, 40], "tickCount": 5, "labelOverlap": false, "title": "IL-10 pg/ml"}}}},
        {"data": {"name": "sig"},
         "transform": [{"filter": "datum.panel === 'F'"}, {"calculate": "indexof(['Control','Ana','Ana_Plas','Ana_Hel','Ana_Plas_Hel'], datum.from)", "as": "a"}],
         "mark": {"type": "tick", "orient": "vertical", "size": 3, "thickness": 1.2, "color": "#7a7a7a", "yOffset": 1.5},
         "encoding": {"x": {"field": "a", "type": "quantitative", "title": null}, "y": {"field": "level", "type": "quantitative", "axis": {"values": [0, 10, 20, 30, 40], "tickCount": 5, "labelOverlap": false, "title": "IL-10 pg/ml"}}}},
        {"data": {"name": "sig"},
         "transform": [{"filter": "datum.panel === 'F'"}, {"calculate": "indexof(['Control','Ana','Ana_Plas','Ana_Hel','Ana_Plas_Hel'], datum.to)", "as": "b"}],
         "mark": {"type": "tick", "orient": "vertical", "size": 3, "thickness": 1.2, "color": "#7a7a7a", "yOffset": 1.5},
         "encoding": {"x": {"field": "b", "type": "quantitative", "title": null}, "y": {"field": "level", "type": "quantitative", "axis": {"values": [0, 10, 20, 30, 40], "tickCount": 5, "labelOverlap": false, "title": "IL-10 pg/ml"}}}},
        {"data": {"name": "sig"},
         "transform": [{"filter": "datum.panel === 'F'"}, {"calculate": "(indexof(['Control','Ana','Ana_Plas','Ana_Hel','Ana_Plas_Hel'], datum.from) + indexof(['Control','Ana','Ana_Plas','Ana_Hel','Ana_Plas_Hel'], datum.to)) / 2", "as": "mid"}],
         "mark": {"type": "text", "fontSize": 14, "fontWeight": "bold", "baseline": "alphabetic", "dy": 4.5, "color": "#000"},
         "encoding": {"x": {"field": "mid", "type": "quantitative", "title": null}, "y": {"field": "level", "type": "quantitative", "axis": {"values": [0, 10, 20, 30, 40], "tickCount": 5, "labelOverlap": false, "title": "IL-10 pg/ml"}}, "text": {"field": "stars"}}}
      ]
    }
  ],
  "config": {
    "view": {"stroke": null},
    "font": "Liberation Sans",
    "axis": {
      "grid": false,
      "domainColor": "#000", "domainWidth": 1.8, "domainOpacity": 1,
      "tickColor": "#000", "tickWidth": 1.8, "tickSize": 4, "tickOpacity": 1,
      "labelFont": "Liberation Sans", "labelFontWeight": "bold", "labelColor": "#000", "labelFontSize": 9, "labelPadding": 1,
      "labelOverlap": false, "labelFlush": false, "labelBound": false,
      "titleFont": "Liberation Sans", "titleFontWeight": "bold", "titleFontSize": 12, "titleColor": "#000", "titlePadding": 3
    },
    "axisX": {"labelFontSize": 10, "labelPadding": 2, "domainColor": "#000", "tickColor": "#000", "labelOverlap": false, "labelFlush": false},
    "axisY": {"domainColor": "#000", "tickColor": "#000", "labelOverlap": false, "labelFlush": false},
    "title": {"font": "Liberation Sans", "fontSize": 12, "fontWeight": "normal", "color": "#444", "anchor": "start", "frame": "group", "baseline": "alphabetic"}
  }
}
